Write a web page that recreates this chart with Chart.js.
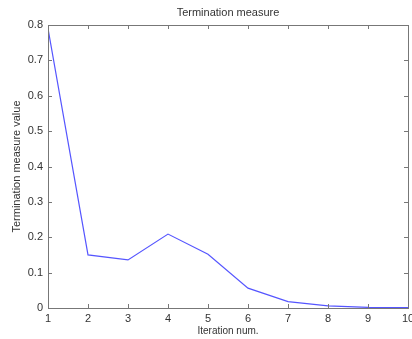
<!DOCTYPE html>
<html>
<head>
<meta charset="utf-8">
<script src="https://cdn.jsdelivr.net/npm/chart.js@4"></script>
<style>
  html, body { margin: 0; padding: 0; background: #fff; }
  #wrap { width: 412px; height: 339px; }
</style>
</head>
<body>
<div id="wrap"><canvas id="chart"></canvas></div>
<script>
// iteration number and termination measure per iteration
const iterations = [1, 2, 3, 4, 5, 6, 7, 8, 9, 10];
const measure = [0.79, 0.150, 0.136, 0.209, 0.152, 0.056, 0.018, 0.006, 0.002, 0.001];
const yTicks = [0, 0.1, 0.2, 0.3, 0.4, 0.5, 0.6, 0.7, 0.8];

const axisColor = '#777';
const textColor = '#333';

// box round the plot with short tick marks pointing inwards on every side
const boxPlugin = {
  id: 'box',
  afterDraw(chart) {
    const { ctx, chartArea: a, scales } = chart;
    ctx.save();
    ctx.strokeStyle = axisColor;
    ctx.lineWidth = 1;
    ctx.strokeRect(a.left + 0.5, a.top + 0.5, a.right - a.left, a.bottom - a.top);
    ctx.beginPath();
    scales.x.ticks.forEach(t => {
      const px = Math.round(scales.x.getPixelForValue(t.value)) + 0.5;
      ctx.moveTo(px, a.bottom); ctx.lineTo(px, a.bottom - 4);
      ctx.moveTo(px, a.top); ctx.lineTo(px, a.top + 4);
    });
    scales.y.ticks.forEach(t => {
      const py = Math.round(scales.y.getPixelForValue(t.value)) + 0.5;
      ctx.moveTo(a.left, py); ctx.lineTo(a.left + 4, py);
      ctx.moveTo(a.right, py); ctx.lineTo(a.right - 4, py);
    });
    ctx.stroke();
    ctx.restore();
  }
};

new Chart(document.getElementById('chart'), {
  type: 'line',
  data: {
    datasets: [{
      data: iterations.map((it, i) => ({ x: it, y: measure[i] })),
      borderColor: 'rgb(85, 85, 255)',
      borderWidth: 1.2,
      pointRadius: 0,
      tension: 0,
      fill: false
    }]
  },
  options: {
    responsive: true,
    maintainAspectRatio: false,
    animation: false,
    layout: { padding: { left: 0, right: 4, top: 0, bottom: 0 } },
    plugins: {
      legend: { display: false },
      tooltip: { enabled: false },
      title: {
        display: true,
        fullSize: false,
        text: 'Termination measure',
        color: textColor,
        font: { family: 'Liberation Sans', size: 11, weight: 'normal', lineHeight: 1.2 },
        padding: { top: 6, bottom: 5.8 }
      }
    },
    scales: {
      x: {
        type: 'linear',
        min: 1,
        max: 10,
        afterBuildTicks: s => { s.ticks = iterations.map(v => ({ value: v })); },
        afterFit: s => { s.height = 31; s.paddingLeft = 0; s.paddingRight = 0; },
        grid: { display: false, drawTicks: false },
        border: { display: false },
        ticks: {
          color: textColor,
          padding: 4,
          maxRotation: 0,
          font: { family: 'Liberation Sans', size: 11 }
        },
        title: {
          display: true,
          text: 'Iteration num.',
          color: textColor,
          font: { family: 'Liberation Sans', size: 10 },
          padding: { top: 0, bottom: 2 }
        }
      },
      y: {
        min: 0,
        max: 0.8,
        afterBuildTicks: s => { s.ticks = yTicks.map(v => ({ value: v })); },
        afterFit: s => { s.width = 48; },
        grid: { display: false, drawTicks: false },
        border: { display: false },
        ticks: {
          color: textColor,
          padding: 5,
          font: { family: 'Liberation Sans', size: 11 },
          callback: v => String(+v.toFixed(1))
        },
        title: {
          display: true,
          text: 'Termination measure value',
          color: textColor,
          font: { family: 'Liberation Sans', size: 11 },
          padding: { top: 10, bottom: 0 }
        }
      }
    }
  },
  plugins: [boxPlugin]
});
</script>
</body>
</html>
